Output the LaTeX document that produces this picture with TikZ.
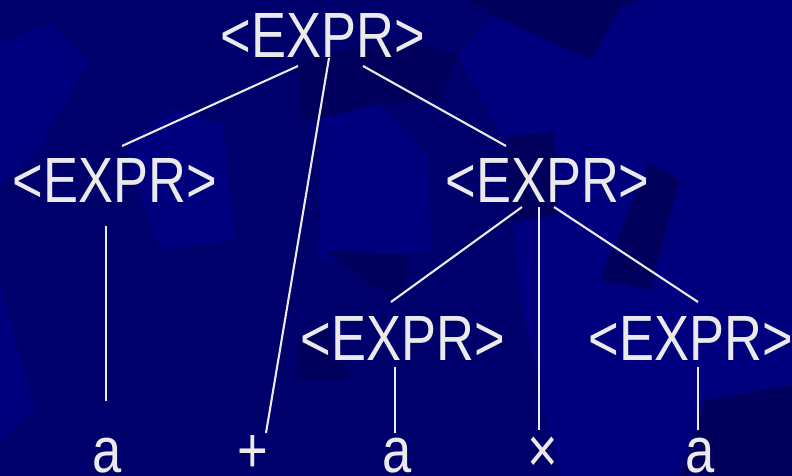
\documentclass[tikz,border=0pt]{standalone}
\usepackage{fontspec}
\setmainfont[FakeStretch=0.82]{Liberation Sans}
\definecolor{bgbase}{RGB}{0,0,108}
\definecolor{bglight}{RGB}{0,0,126}
\definecolor{bgdark}{RGB}{0,0,92}
\definecolor{ink}{RGB}{234,234,234}
\tikzset{
  sym/.style={text=ink, inner sep=0pt, anchor=base, font=\fontsize{64}{70}\selectfont},
  link/.style={draw=ink, line width=2.1pt},
  light/.style={fill=bglight},
  dark/.style={fill=bgdark}
}
\begin{document}
\begin{tikzpicture}[x=1pt,y=-1pt]
\useasboundingbox (0,0) rectangle (792,476);
% background
\fill[bgbase] (0,0) rectangle (792,476);
\fill[light] (480,0) -- (792,0) -- (792,476) -- (560,476) -- (520,300) -- (506,145) -- (458,55) -- (491,15) -- cycle;
\fill[light] (0,43) -- (52,23) -- (88,60) -- (40,150) -- (0,185) -- cycle;
\fill[light] (173,107) -- (223,125) -- (235,240) -- (160,250) -- (125,150) -- cycle;
\fill[light] (321,118) -- (381,103) -- (427,155) -- (432,250) -- (318,262) -- cycle;
\fill[light] (0,281) -- (35,411) -- (0,438) -- cycle;
\fill[dark] (400,0) -- (640,0) -- (620,8) -- (591,60) -- (491,15) -- (470,0) -- cycle;
\fill[dark] (300,60) -- (400,40) -- (458,55) -- (440,100) -- (381,103) -- (321,118) -- (300,120) -- cycle;
\fill[dark] (506,137) -- (554,132) -- (558,215) -- (510,222) -- cycle;
\fill[dark] (649,162) -- (680,180) -- (650,290) -- (600,280) -- cycle;
\fill[dark] (326,251) -- (411,255) -- (400,300) -- (364,281) -- cycle;
\fill[dark] (297,345) -- (330,330) -- (350,380) -- (297,380) -- cycle;
\fill[dark] (705,400) -- (792,385) -- (792,476) -- (680,476) -- cycle;
% nodes
\node[sym] (top) at (323,58) {<EXPR>};
\node[sym] (L) at (115,202) {<EXPR>};
\node[sym] (R) at (547.5,202) {<EXPR>};
\node[sym] (L3) at (403,360) {<EXPR>};
\node[sym] (R3) at (691,360) {<EXPR>};
\node[sym] (a1) at (107,472) {a};
\node[sym] (plus) at (253,472) {+};
\node[sym] (a2) at (397,472) {a};
\node[sym] (times) at (543,472) {×};
\node[sym] (a3) at (700,472) {a};
% connectors
\draw[link] ([shift={(-25,8)}]top.base) -- ([shift={(7,-56)}]L.base);
\draw[link] ([shift={(6,0)}]top.base) -- ([shift={(13,-39)}]plus.base);
\draw[link] ([shift={(40,8)}]top.base) -- ([shift={(-41.5,-56)}]R.base);
\draw[link] ([shift={(-9,24)}]L.base) -- ([shift={(-1,-71)}]a1.base);
\draw[link] ([shift={(-25.5,5)}]R.base) -- ([shift={(-12,-58)}]L3.base);
\draw[link] ([shift={(-8.5,5)}]R.base) -- ([shift={(-4,-42)}]times.base);
\draw[link] ([shift={(6.5,5)}]R.base) -- ([shift={(7,-58)}]R3.base);
\draw[link] ([shift={(-8,7)}]L3.base) -- ([shift={(-2,-39)}]a2.base);
\draw[link] ([shift={(7,7)}]R3.base) -- ([shift={(-2,-42)}]a3.base);
\end{tikzpicture}
\end{document}
